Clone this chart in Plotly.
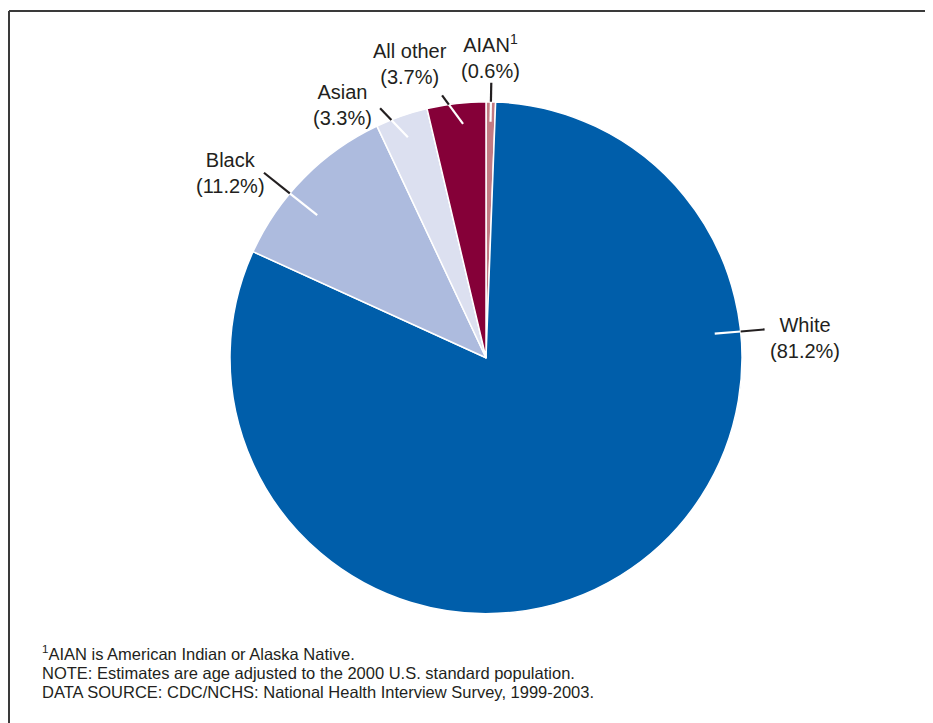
import math
import plotly.graph_objects as go

# ---- data ----
categories = ["AIAN", "White", "Black", "Asian", "All other"]
label_text = ["AIAN<sup>1</sup>", "White", "Black", "Asian", "All other"]
percent = [0.6, 81.2, 11.2, 3.3, 3.7]
colors = ["#C27A83", "#005EAA", "#ADBBDE", "#DCE0F0", "#850038"]
notes = [
    "<sup>1</sup>AIAN is American Indian or Alaska Native.",
    "NOTE: Estimates are age adjusted to the 2000 U.S. standard population.",
    "DATA SOURCE: CDC/NCHS: National Health Interview Survey, 1999-2003.",
]

W, H = 933, 723
OFF = 8  # page offset of the plot in the browser
CX, CY, R = 486.0, 357.75, 256.0

def px(x, y):
    return (x - OFF) / W, 1 - (y - OFF) / H

fig = go.Figure()
dx0, dy0 = px(CX - R, CY + R)
dx1, dy1 = px(CX + R, CY - R)
fig.add_trace(go.Pie(
    labels=categories, values=percent, sort=False, direction="clockwise",
    rotation=0, marker=dict(colors=colors, line=dict(color="white", width=1.5)),
    textinfo="none", hoverinfo="label+percent", showlegend=False,
    domain=dict(x=[dx0, dx1], y=[dy0, dy1]),
))

# leader lines: (inner angle, inner r, outer angle, outer r) per category
leaders = {
    "AIAN": (1.1, 236, 1.1, 275),
    "White": (84.0, 230, 84.2, 280),
    "Black": (-49.8, 221, -50.2, 289),
    "Asian": (-19.5, 234, -23.0, 271),
    "All other": (-5.6, 235, -9.5, 266),
}
# label block centres (pixels)
label_pos = {
    "AIAN": (490.5, 57),
    "White": (805, 338.5),
    "Black": (230, 173),
    "Asian": (342, 105),
    "All other": (410, 64.5),
}

def polar(a, r):
    t = math.radians(a)
    return CX + r * math.sin(t), CY - r * math.cos(t)

shapes = []
annotations = []
for cat, txt, p in zip(categories, label_text, percent):
    a0, r0, a1, r1 = leaders[cat]
    xi, yi = polar(a0, r0)
    xo, yo = polar(a1, r1)
    f = (R - r0) / (r1 - r0)
    xm, ym = xi + (xo - xi) * f, yi + (yo - yi) * f
    for (x0, y0, x1, y1, c) in [(xi, yi, xm, ym, "white"), (xm, ym, xo, yo, "#231F20")]:
        X0, Y0 = px(x0, y0)
        X1, Y1 = px(x1, y1)
        shapes.append(dict(type="line", xref="paper", yref="paper", x0=X0, y0=Y0, x1=X1, y1=Y1,
                           line=dict(color=c, width=2.2)))
    lx, ly = label_pos[cat]
    LX, LY = px(lx, ly)
    annotations.append(dict(xref="paper", yref="paper", x=LX, y=LY, xanchor="center", yanchor="middle",
                            text=f"{txt}<br>({p}%)", showarrow=False, align="center",
                            font=dict(family="Liberation Sans, Arial", size=20, color="#231F20")))

# frame
fx0, fy0 = px(9, 11)
shapes.append(dict(type="line", xref="paper", yref="paper", x0=fx0, y0=fy0, x1=1.0, y1=fy0,
                   line=dict(color="#3A3A3A", width=2)))
shapes.append(dict(type="line", xref="paper", yref="paper", x0=fx0, y0=fy0, x1=fx0, y1=0.0,
                   line=dict(color="#3A3A3A", width=2)))

for ny_px, line in zip([653, 673, 692], notes):
    nx, ny = px(40, ny_px)
    annotations.append(dict(xref="paper", yref="paper", x=nx, y=ny, xanchor="left", yanchor="middle",
                            showarrow=False, align="left", text=line,
                            font=dict(family="Liberation Sans, Arial", size=16.5, color="#231F20")))

fig.update_layout(width=W, height=H, margin=dict(l=0, r=0, t=0, b=0),
                  paper_bgcolor="white", plot_bgcolor="white",
                  shapes=shapes, annotations=annotations)
fig.write_html("out.html")
